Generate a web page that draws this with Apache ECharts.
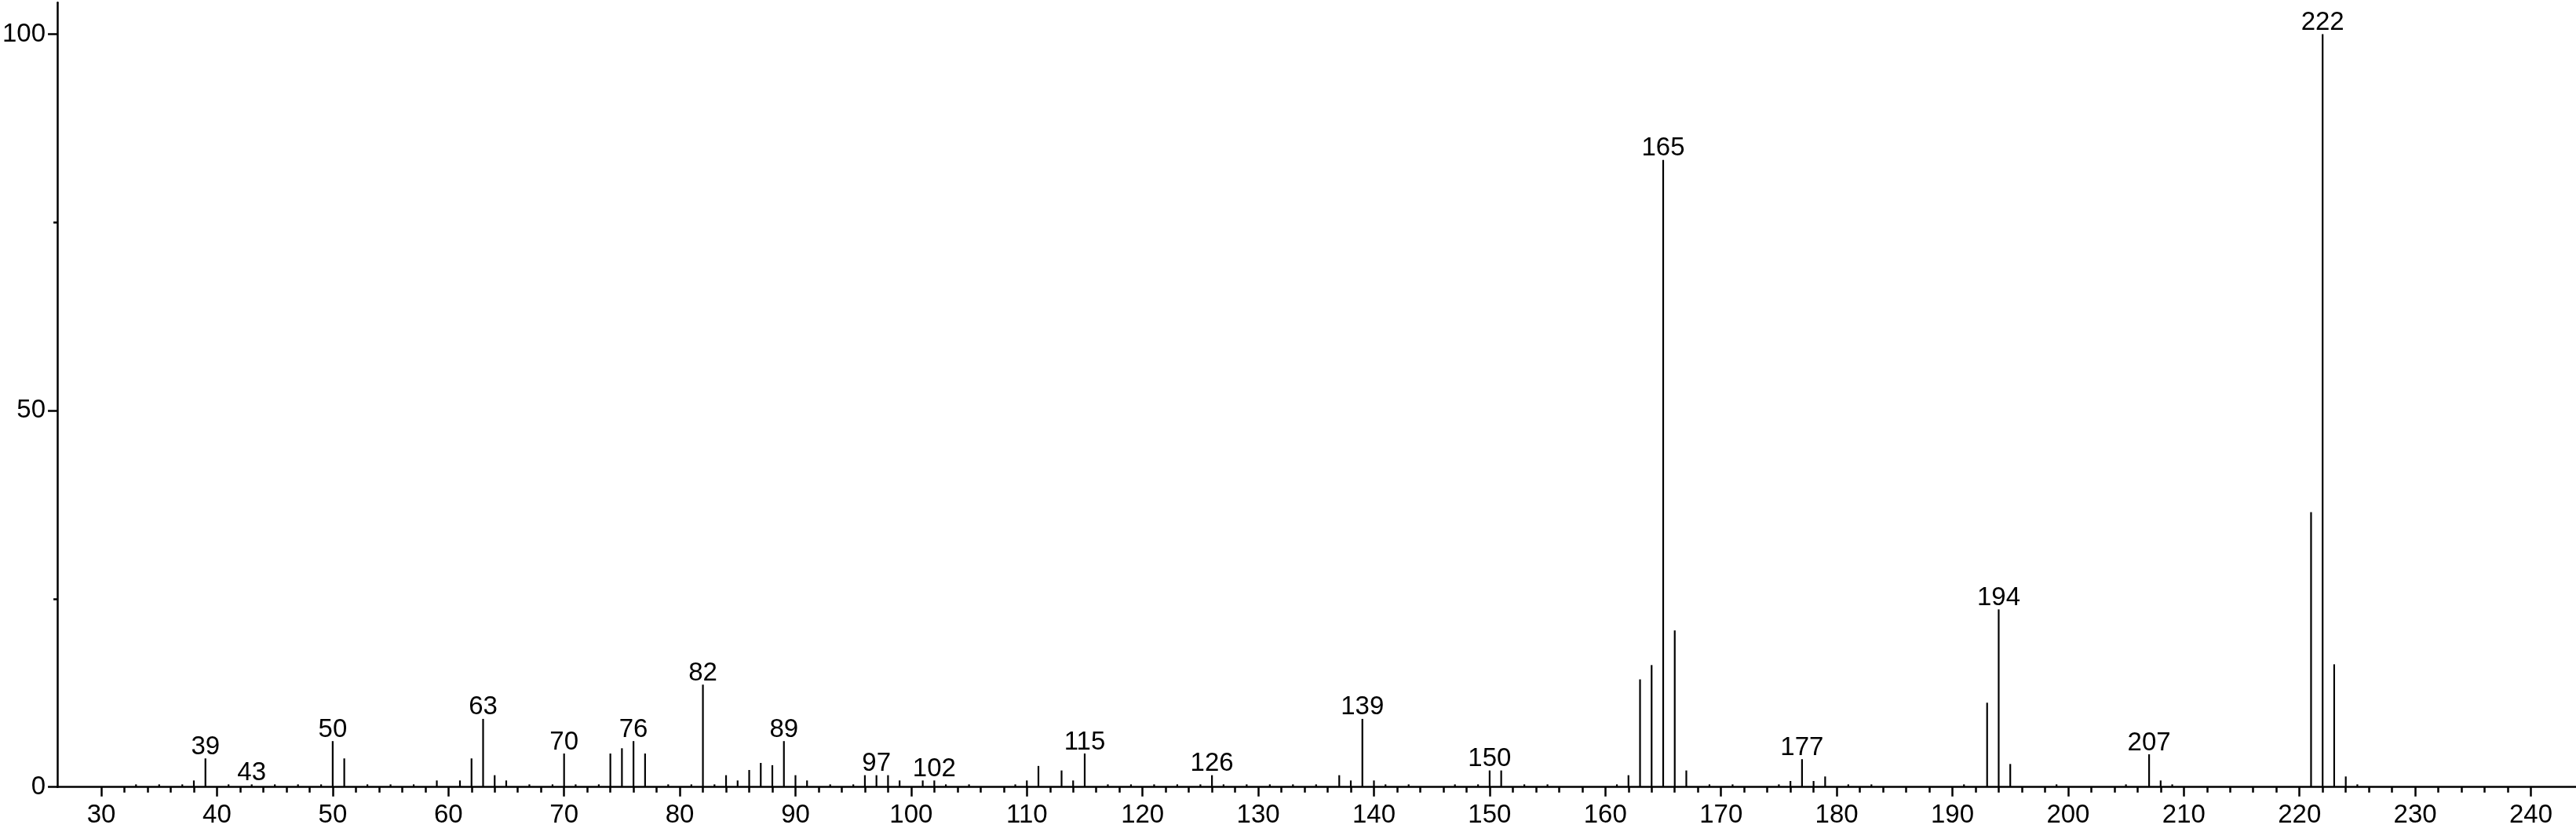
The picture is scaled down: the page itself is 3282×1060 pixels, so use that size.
<!DOCTYPE html>
<html><head><meta charset="utf-8">
<script src="https://cdn.jsdelivr.net/npm/echarts@6/dist/echarts.min.js"></script>
<style>html,body{margin:0;padding:0;background:#fff}#c{width:3282px;height:1060px}</style>
</head><body><div id="c"></div>
<script>
const mz = [33,35,37,38,39,41,43,45,47,49,50,51,53,55,57,59,61,62,63,64,65,67,69,70,71,73,74,75,76,77,79,81,82,83,84,85,86,87,88,89,90,91,93,95,96,97,98,99,101,102,103,105,109,110,111,113,114,115,117,119,121,123,125,126,127,129,131,133,135,137,138,139,140,141,143,147,149,150,151,153,155,161,162,163,164,165,166,167,169,171,175,176,177,178,179,181,183,191,193,194,195,199,205,207,208,209,221,222,223,224,225];
const intensity = [0.35,0.35,0.35,0.87,3.8,0.35,0.35,0.35,0.35,0.35,6.1,3.8,0.35,0.35,0.35,0.87,0.87,3.8,9.05,1.57,0.87,0.35,0.35,4.45,0.35,0.35,4.45,5.15,6.1,4.45,0.35,0.35,13.6,0.35,1.57,0.87,2.26,3.2,2.9,6.1,1.57,0.87,0.35,0.35,1.57,1.57,1.57,0.87,0.87,0.87,0.35,0.35,0.35,0.87,2.8,2.2,0.87,4.45,0.35,0.35,0.35,0.35,0.35,1.57,0.35,0.35,0.35,0.35,0.35,1.57,0.87,9.05,0.87,0.35,0.35,0.35,0.35,2.2,2.2,0.35,0.35,0.35,1.57,14.3,16.2,83.3,20.8,2.2,0.35,0.35,0.35,0.8,3.7,0.8,1.4,0.35,0.35,0.35,11.2,23.6,3.06,0.35,0.35,4.35,0.87,0.35,36.5,100,16.3,1.4,0.35];
const labeledMz = [39,43,50,63,70,76,82,89,97,102,115,126,139,150,165,177,194,207,222];
const xMajorTicks = [30,40,50,60,70,80,90,100,110,120,130,140,150,160,170,180,190,200,210,220,230,240];
const xMinorTicks = [];
for (let v = 32; v <= 238; v += 2) { if (v % 10 !== 0) xMinorTicks.push(v); }
const yMajorTicks = [0,50,100];
const yMinorTicks = [25,75];

const FONT = 'Liberation Sans';
const X_MIN = 26.2, X_MAX = 243.9, Y_MAX = 104.2;

const data = mz.map((m, i) => ({
  value: [m, intensity[i]],
  label: { show: labeledMz.includes(m) }
}));

const axisLineStyle = { color: '#000', width: 2.5 };

const chart = echarts.init(document.getElementById('c'), null, { renderer: 'canvas' });
chart.setOption({
  animation: false,
  backgroundColor: '#fff',
  grid: { left: 70, right: 0, top: 3.3, bottom: 57.3, containLabel: false },
  xAxis: [{
    type: 'value', position: 'bottom', min: X_MIN, max: X_MAX,
    axisLine: { show: true, lineStyle: axisLineStyle, onZero: false },
    axisTick: { show: true, length: 12, lineStyle: axisLineStyle, customValues: xMajorTicks },
    axisLabel: { show: true, margin: 20, fontSize: 33, color: '#000', fontFamily: FONT, customValues: xMajorTicks },
    splitLine: { show: false }
  }, {
    type: 'value', position: 'bottom', min: X_MIN, max: X_MAX,
    axisLine: { show: false },
    axisTick: { show: true, length: 7, lineStyle: axisLineStyle, customValues: xMinorTicks },
    axisLabel: { show: false },
    splitLine: { show: false }
  }],
  yAxis: [{
    type: 'value', position: 'left', min: 0, max: Y_MAX,
    axisLine: { show: true, lineStyle: axisLineStyle, onZero: false },
    axisTick: { show: true, length: 12, lineStyle: axisLineStyle, customValues: yMajorTicks },
    axisLabel: { show: true, margin: 15, fontSize: 33, color: '#000', fontFamily: FONT, customValues: yMajorTicks },
    splitLine: { show: false }
  }, {
    type: 'value', position: 'left', min: 0, max: Y_MAX,
    axisLine: { show: false },
    axisTick: { show: true, length: 5, lineStyle: axisLineStyle, customValues: yMinorTicks },
    axisLabel: { show: false },
    splitLine: { show: false }
  }],
  series: [{
    type: 'bar',
    xAxisIndex: 0, yAxisIndex: 0,
    barWidth: 2.2,
    itemStyle: { color: '#000' },
    label: {
      show: false, position: 'top', distance: -2,
      fontSize: 33, color: '#000', fontFamily: FONT,
      formatter: p => String(p.value[0])
    },
    labelLayout: { hideOverlap: false },
    data: data
  }]
});
</script>
</body></html>
